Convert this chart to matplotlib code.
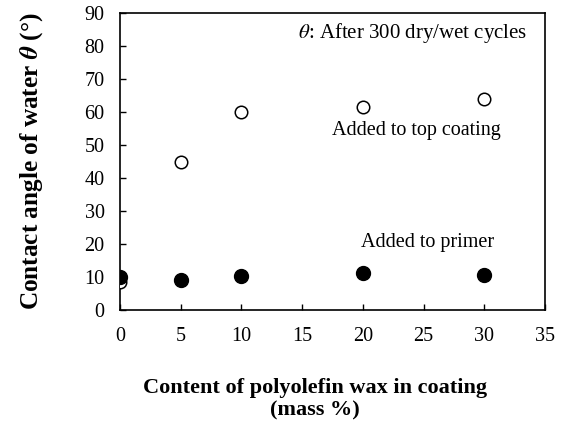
import matplotlib
matplotlib.use("Agg")
import matplotlib.pyplot as plt

plt.rcParams['font.family'] = 'serif'
plt.rcParams['font.serif'] = ['Liberation Serif', 'DejaVu Serif']
plt.rcParams['mathtext.fontset'] = 'stix'

wax_content = [0, 5, 10, 20, 30]
top_coating = [8.5, 45, 60, 61.5, 63.8]
primer = [10, 9.1, 10.3, 11.3, 10.6]
x_ticks = [0, 5, 10, 15, 20, 25, 30, 35]
y_ticks = [0, 10, 20, 30, 40, 50, 60, 70, 80, 90]

fig = plt.figure(figsize=(5.63, 4.37), dpi=100)
ax = fig.add_axes([120/563, 1-310/437, (545-120)/563, (310-13)/437])

ax.plot(wax_content, top_coating, linestyle='none', marker='o', markersize=9,
        markerfacecolor='white', markeredgecolor='black', markeredgewidth=1.1, zorder=3)
ax.plot(wax_content, primer, linestyle='none', marker='o', markersize=10,
        markerfacecolor='black', markeredgecolor='black', zorder=4)

ax.set_xlim(0, 35)
ax.set_ylim(0, 90)
ax.set_xticks(x_ticks, labels=[str(v) for v in x_ticks])
ax.set_yticks(y_ticks, labels=[str(v) for v in y_ticks])
ax.tick_params(direction='in', length=4, width=1, labelsize=14.5,
               labelfontfamily='Liberation Serif')
ax.tick_params(axis='x', pad=12)
ax.tick_params(axis='y', pad=11)
for s in ax.spines.values():
    s.set_linewidth(1.2)

ax.text(0.958, 0.933, r'$\theta$: After 300 dry/wet cycles', transform=ax.transAxes,
        ha='right', va='center', fontsize=15)
ax.text(24.4, 54.5, 'Added to top coating', ha='center', va='center', fontsize=14.5)
ax.text(25.3, 20.6, 'Added to primer', ha='center', va='center', fontsize=14.5)

ax.set_ylabel(r'Contact angle of water $\boldsymbol{\theta}$ (°)', fontsize=18.2,
              fontweight='bold', va='center')
ax.yaxis.set_label_coords(-(120-32)/425, 0.5)
ax.set_xlabel('Content of polyolefin wax in coating\n(mass %)', fontsize=16,
              fontweight='bold', linespacing=1.15, va='center')
ax.xaxis.set_label_coords((315-120)/425, -(399-310)/297)

fig.savefig('out.png', dpi=100)
